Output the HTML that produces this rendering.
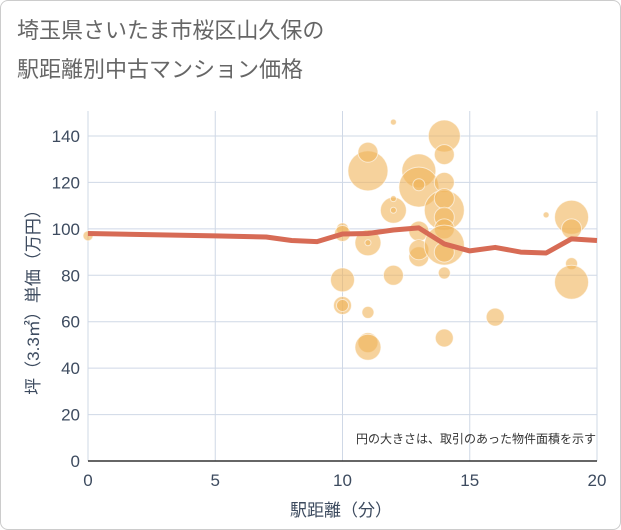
<!DOCTYPE html>
<html><head><meta charset="utf-8"><style>
body{margin:0;background:#fff;font-family:"Liberation Sans","Noto Sans CJK JP",sans-serif}
#wrap{position:relative;width:619px;height:528px;border:1px solid #ccc;border-radius:8px;overflow:hidden}
</style></head><body>
<div id="wrap">
<svg id="chart" width="619" height="528">
<text x="16" y="37" font-size="22" fill="#666">埼玉県さいたま市桜区山久保の</text>
<text x="16" y="76" font-size="22" fill="#666">駅距離別中古マンション価格</text>
<g id="grid"></g><g id="bubbles"></g><g id="line"></g><g id="axes"></g>
<text x="595" y="442" font-size="12" fill="#333" text-anchor="end">円の大きさは、取引のあった物件面積を示す</text>
<text x="340" y="515" font-size="17" fill="#3d4b5f" text-anchor="middle">駅距離（分）</text>
<text transform="translate(38,297) rotate(-90)" font-size="17" fill="#3d4b5f" text-anchor="middle">坪（3.3㎡）単価（万円）</text>
</svg></div>
<script>
const xTicks=[0,5,10,15,20];
const yTicks=[0,20,40,60,80,100,120,140];
const bubbleX=[0,10,10,10,10,10,11,11,11,11,11,11,11,12,12,12,12,12,13,13,13,13,13,13,14,14,14,14,14,14,14,14,14,14,14,16,18,19,19,19,19];
const bubbleY=[97,100,98,78,67,67,125,133,94,94,64,51,49,146,108,108,80,113,125,118,119,99,88,91,140,132,120,108,113,105,100,93,90,81,53,62,106,105,100,85,77];
const bubbleR=[5,6,8,12,9,6,20,10,13,3,6,10,13,3,13,3,10,3,17,20,6,10,10,10,16,10,10,20,10,10,10,20,10,6,9,9,3,17,10,6,17];
const lineX=[0,5,7,8,9,10,11,12,13,14,15,16,17,18,19,20];
const lineY=[98,97,96.5,95,94.5,97.8,98,99.5,100.4,93.5,90.5,92,90,89.6,95.7,95];
const L=87,R=596,T=110,B=460;
const xs=v=>L+v/20*(R-L);
const ys=v=>B-v/140*(B-135);
const NS='http://www.w3.org/2000/svg';
function mk(t,a,p){const e=document.createElementNS(NS,t);for(const k in a)e.setAttribute(k,a[k]);p.appendChild(e);return e;}
const g=document.getElementById('grid'),ax=document.getElementById('axes');
const bg=mk('rect',{x:L,y:T,width:R-L,height:B-T,fill:'#fff'},g);

yTicks.forEach(v=>{const l=mk('line',{x1:L,x2:R,y1:ys(v),y2:ys(v),stroke:'#cfd8e6','stroke-width':1},g);

const t=mk('text',{x:L-8,y:ys(v)+6,'font-size':17,fill:'#3d4b5f','text-anchor':'end'},ax);t.textContent=v;
});
xTicks.forEach(v=>{const l=mk('line',{x1:xs(v),x2:xs(v),y1:T,y2:B,stroke:'#cfd8e6','stroke-width':1},g);

const t=mk('text',{x:xs(v),y:B+25,'font-size':17,fill:'#3d4b5f','text-anchor':'middle'},ax);t.textContent=v;
});
const a=mk('line',{x1:L,x2:R,y1:B,y2:B,stroke:'#333','stroke-width':1.5},ax);

const bgp=document.getElementById('bubbles');
bubbleX.forEach((x,i)=>{const c=mk('circle',{cx:xs(x),cy:ys(bubbleY[i]),r:bubbleR[i],fill:'rgba(240,180,90,0.6)',stroke:'rgba(255,255,255,0.6)','stroke-width':1},bgp);
});
const p=mk('polyline',{points:lineX.map((x,i)=>xs(x)+','+ys(lineY[i])).join(' '),fill:'none',stroke:'#d76b55','stroke-width':5,'stroke-linejoin':'round'},document.getElementById('line'));

</script></body></html>
